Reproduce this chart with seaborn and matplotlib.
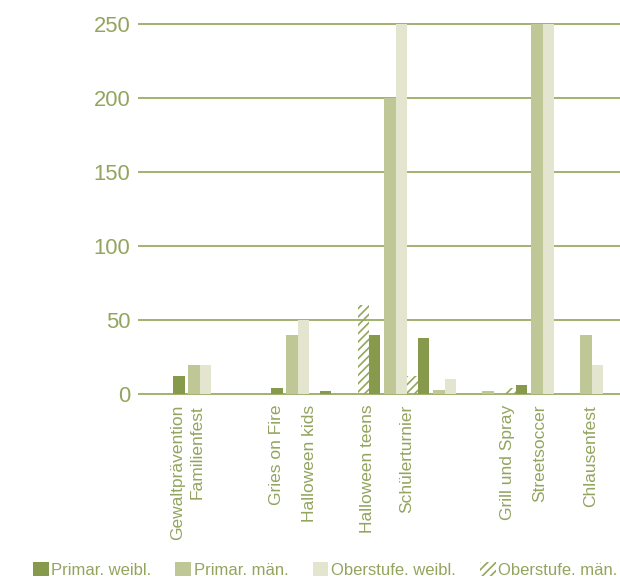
import pandas as pd
import numpy as np
import matplotlib
matplotlib.use("Agg")
import matplotlib.pyplot as plt
import seaborn as sns
from matplotlib.patches import Patch

# Daten
anlaesse = ['Gewaltprävention', 'Familienfest', 'Gries on Fire', 'Halloween kids',
            'Halloween teens', 'Schülerturnier', 'Grill und Spray', 'Streetsoccer',
            'Chlausenfest']
oberstufe_maen = [0, 0, 0, 0, 60, 12, 0, 4, 0]
primar_weibl = [12, 0, 4, 2, 40, 38, 0, 6, 0]
primar_maen = [20, 0, 40, 0, 200, 3, 2, 250, 40]
oberstufe_weibl = [20, 0, 50, 0, 250, 10, 0, 250, 20]

gruppen = ['Oberstufe. män.', 'Primar. weibl.', 'Primar. män.', 'Oberstufe. weibl.']
legende_reihenfolge = ['Primar. weibl.', 'Primar. män.', 'Oberstufe. weibl.', 'Oberstufe. män.']

# Position der Beschriftungen auf der x-Achse (Kategorie-Einheiten)
label_pos = [-0.18, 0.21, 1.83, 2.52, 3.70, 4.49, 6.56, 7.21, 8.26]

df = pd.DataFrame({
    'anlass': anlaesse * 4,
    'gruppe': np.repeat(gruppen, len(anlaesse)),
    'wert': oberstufe_maen + primar_weibl + primar_maen + oberstufe_weibl,
})

farben = {'Oberstufe. män.': 'white', 'Primar. weibl.': '#879a4c',
          'Primar. män.': '#bfc797', 'Oberstufe. weibl.': '#e3e5cf'}
hatch_farbe = '#94a65c'
text_farbe = '#93a45f'
grid_farbe = '#9aab65'

sns.set_style('white')
plt.rcParams['font.family'] = ['Liberation Sans', 'DejaVu Sans']
plt.rcParams['hatch.linewidth'] = 1.2

fig = plt.figure(figsize=(6.2, 5.81), dpi=100)
ax = fig.add_axes([0.2226, 0.320, 0.7774, 0.642])

sns.barplot(data=df, x='anlass', y='wert', hue='gruppe', hue_order=gruppen,
            order=anlaesse, palette=farben, width=0.92, saturation=1,
            errorbar=None, legend=False, ax=ax)

# Balken etwas auseinanderschieben (Luecke in der Mitte jeder Gruppe)
for i, cont in enumerate(ax.containers):
    verschiebung = -0.04 if i < 2 else 0.04
    for bar in cont:
        bar.set_x(bar.get_x() + verschiebung)
        bar.set_linewidth(0)
        if i == 0:
            bar.set_facecolor('none')
            bar.set_edgecolor(hatch_farbe)
            bar.set_hatch('////')

ax.set_ylim(-0.6, 251)
ax.set_xlim(-0.99, 8.85)
ax.set_yticks([0, 50, 100, 150, 200, 250])
ax.set_xticks(label_pos, labels=anlaesse)
ax.set_xlabel('')
ax.set_ylabel('')
ax.yaxis.grid(True, color=grid_farbe, linewidth=1.3)
ax.set_axisbelow(True)
for s in ax.spines.values():
    s.set_visible(False)
ax.tick_params(axis='y', length=0, pad=5.5, labelsize=15.8, labelcolor=text_farbe)
ax.tick_params(axis='x', length=0, pad=7, labelsize=12.5, labelcolor=text_farbe, rotation=90)

handles = []
for name in legende_reihenfolge:
    if name == 'Oberstufe. män.':
        handles.append(Patch(facecolor='none', edgecolor=hatch_farbe, hatch='////', linewidth=0, label=name))
    else:
        handles.append(Patch(facecolor=farben[name], linewidth=0, label=name))
leg = fig.legend(handles=handles, loc='center left', bbox_to_anchor=(0.053, 0.019),
                 ncol=4, frameon=False, fontsize=12, borderpad=0, borderaxespad=0,
                 handlelength=0.95, handleheight=0.95, handletextpad=0.15,
                 columnspacing=1.45)
for t in leg.get_texts():
    t.set_color(text_farbe)

fig.savefig('out.png', dpi=100)
